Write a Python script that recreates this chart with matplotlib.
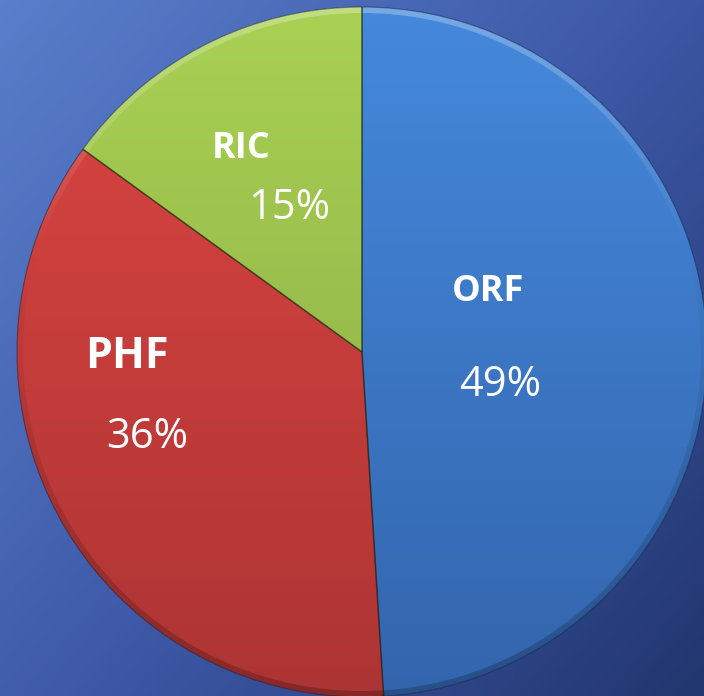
"""Pie chart of ORF / PHF / RIC shares on a gradient background."""

import matplotlib
import numpy as np

matplotlib.use("Agg")
from matplotlib import pyplot as plt  # noqa: E402
from matplotlib.colors import LinearSegmentedColormap  # noqa: E402
from matplotlib.patches import Circle, Wedge  # noqa: E402

categories = ["ORF", "PHF", "RIC"]
shares = [49, 36, 15]
share_labels = ["49%", "36%", "15%"]

top_colors = ["#4589dc", "#dc4642", "#a9d153"]
bottom_colors = ["#3365ad", "#ad3434", "#88a744"]

# label offsets from pie centre, in pixels (name line, value line)
name_offsets = [(126, 60), (-235, -4), (-121, 203)]
name_sizes = [26, 31, 26]
value_offsets = [(138, -33), (-215, -85), (-73, 144)]

W, H = 704, 696
cx, cy, R = 362, 696 - 352, 345

fig = plt.figure(figsize=(W / 100, H / 100), dpi=100)
ax = fig.add_axes([0, 0, 1, 1])

# background diagonal gradient
yy, xx = np.mgrid[0:1:200j, 0:1:200j]
t = xx * 0.55 + yy * 0.45
bg = LinearSegmentedColormap.from_list("bg", ["#5a7ecb", "#3e5aa8", "#22366f"])
ax.imshow(t, cmap=bg, extent=(0, W, 0, H), origin="upper", aspect="auto", zorder=0)

wedges, _ = ax.pie(
    shares,
    center=(cx, cy),
    radius=R,
    startangle=90,
    counterclock=False,
    colors=top_colors,
    wedgeprops={"linewidth": 0},
)

grad = np.linspace(0, 1, 256).reshape(-1, 1)
for wedge, c_top, c_bot in zip(wedges, top_colors, bottom_colors):
    cmap = LinearSegmentedColormap.from_list("w", [c_top, c_bot])
    im = ax.imshow(grad, cmap=cmap, extent=(cx - R, cx + R, cy - R, cy + R),
                   origin="upper", aspect="auto", zorder=2)
    im.set_clip_path(wedge)

# bevel rim: light at the top, darker toward the bottom
rim_rgba = np.zeros((256, 1, 4))
v = np.linspace(0, 1, 256)
rim_rgba[:, 0, :3] = np.where(v < 0.35, 1.0, 0.0)[:, None]
rim_rgba[:, 0, 3] = np.where(v < 0.35, 0.28 * (1 - v / 0.35), 0.22 * (v - 0.35) / 0.65)
ring = Wedge((cx, cy), R, 0, 360, width=6, transform=ax.transData)
im = ax.imshow(rim_rgba, extent=(cx - R, cx + R, cy - R, cy + R),
               origin="upper", aspect="auto", zorder=3)
im.set_clip_path(ring)

ax.add_patch(Circle((cx, cy), R, fill=False, lw=0.8,
                    edgecolor=(0.05, 0.08, 0.2, 0.45), zorder=4))

# dark seams between slices
for w in wedges:
    ang = np.deg2rad(w.theta1)
    ax.plot([cx, cx + R * np.cos(ang)], [cy, cy + R * np.sin(ang)],
            color=(0.08, 0.12, 0.05, 0.7), lw=1.1, zorder=4, solid_capstyle="butt")

for name, value, (nx, ny), size, (vx, vy) in zip(
    categories, share_labels, name_offsets, name_sizes, value_offsets
):
    ax.text(cx + nx, cy + ny, name, color="white", fontsize=size, fontweight="bold",
            family="Open Sans", ha="center", va="center", zorder=5)
    ax.text(cx + vx, cy + vy, value, color="white", fontsize=30,
            family="Open Sans", ha="center", va="center", zorder=5)

ax.set_xlim(0, W)
ax.set_ylim(0, H)
ax.set_aspect("auto")
ax.axis("off")

fig.savefig("out.png", dpi=100)
